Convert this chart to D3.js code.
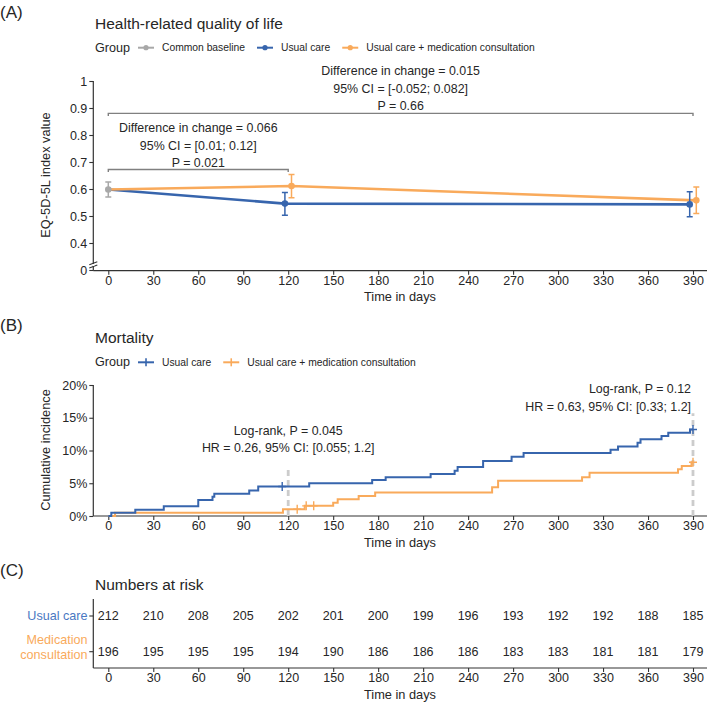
<!DOCTYPE html>
<html><head><meta charset="utf-8">
<script src="https://cdn.jsdelivr.net/npm/d3@7"></script>
<style>
body{margin:0;background:#fff}
svg{display:block}
text{font-family:"Liberation Sans",Arial,Helvetica,sans-serif;fill:#262626}
</style>
</head><body>
<svg id="chart" width="709" height="704"></svg>
<script>
// ---------------- DATA ----------------
const dayTicks = [0,30,60,90,120,150,180,210,240,270,300,330,360,390];

// Panel A: EQ-5D-5L (index 0 = common baseline)
const qolGroups = ["Common baseline","Usual care","Usual care + medication consultation"];
const qolDays = [0,120,390];
const qolUsual   = [0.598,0.546,0.543];
const qolUsualLo = [0.570,0.503,0.497];
const qolUsualHi = [0.626,0.587,0.590];
const qolMed     = [0.598,0.611,0.558];
const qolMedLo   = [0.570,0.568,0.509];
const qolMedHi   = [0.626,0.654,0.607];
const qolYTicks = [0,0.4,0.5,0.6,0.7,0.8,0.9,1];
const annotTop = ["Difference in change = 0.015","95% CI = [-0.052; 0.082]","P = 0.66"];
const annotLow = ["Difference in change = 0.066","95% CI = [0.01; 0.12]","P = 0.021"];

// Panel B: cumulative incidence of death (%)
const kmGroups = ["Usual care","Usual care + medication consultation"];
const kmUsualT = [0,2,18,37,60,69.5,70.7,94,100,134,176,185,215,231,233,250,269,277,335,340,353,355,369,373.5,388,390];
const kmUsualY = [0,0.5,0.95,1.5,2.45,2.95,3.4,3.9,4.5,5.0,5.5,5.9,6.4,6.9,7.5,8.4,9.05,9.6,10.1,10.6,11.2,11.7,12.2,12.7,13.2,13.2];
const kmMedT = [0,4.5,116.5,131,150,153,167,178,256,260,316,321,380,382.5,389,390];
const kmMedY = [0,0.51,1.02,1.55,2.04,2.55,3.06,3.6,4.38,5.4,5.9,6.6,7.15,7.65,8.2,8.2];
const kmUsualCensor = [116,390];
const kmMedCensor = [126,132,137,390];
const kmYTicks = [0,5,10,15,20];
const lrDays = [120,390];
const lrTop = [7.2,15.7];
const lrText1 = ["Log-rank, P = 0.045","HR = 0.26, 95% CI: [0.055; 1.2]"];
const lrText2 = ["Log-rank, P = 0.12","HR = 0.63, 95% CI: [0.33; 1.2]"];

// Panel C: numbers at risk
const riskRows = ["Usual care","Medication consultation"];
const riskUsual = [212,210,208,205,202,201,200,199,196,193,192,192,188,185];
const riskMed   = [196,195,195,195,194,190,186,186,186,183,183,181,181,179];

// ---------------- STYLE ----------------
const BLUE = "#3765ad", ORANGE = "#f9aa5b", GREY = "#a8a8a8";
const AXIS = "#333333", ANN = "#808080";
const svg = d3.select("#chart");
const LEFT = 93.3, RIGHT = 707;
const x = d3.scaleLinear().domain([0,390]).range([108.3,693]);
const FS_TICK = "12.5px", FS_ANN = "12.4px", FS_TITLE = "15.5px", FS_TAG = "17px";

function styleAxis(g){
  g.select(".domain").remove();
  g.selectAll(".tick line").attr("stroke",AXIS).attr("stroke-width",1.1);
  g.selectAll(".tick text").attr("font-size",FS_TICK).attr("fill","#262626")
    .attr("font-family","Liberation Sans, Arial, sans-serif");
}
function tag(t,y){ svg.append("text").attr("x",0).attr("y",y).attr("dominant-baseline","central")
  .attr("font-size",FS_TAG).text(t); }
function title(t,y){ svg.append("text").attr("x",95).attr("y",y).attr("dominant-baseline","central")
  .attr("font-size",FS_TITLE).text(t); }
function xLabel(y){ svg.append("text").attr("x",400).attr("y",y).attr("text-anchor","middle")
  .attr("dominant-baseline","central").attr("font-size","12.8px").text("Time in days"); }
function yLabel(t,cy){ svg.append("text").attr("transform",`translate(45,${cy}) rotate(-90)`)
  .attr("text-anchor","middle").attr("dominant-baseline","central").attr("font-size","12.8px").text(t); }
function hline(y,x1,x2){ svg.append("line").attr("x1",x1).attr("x2",x2).attr("y1",y).attr("y2",y)
  .attr("stroke",AXIS).attr("stroke-width",1.2); }
function vline(xp,y1,y2){ svg.append("line").attr("x1",xp).attr("x2",xp).attr("y1",y1).attr("y2",y2)
  .attr("stroke",AXIS).attr("stroke-width",1.2); }
function xAxis(y){
  const g = svg.append("g").attr("transform",`translate(0,${y})`)
    .call(d3.axisBottom(x).tickValues(dayTicks).tickSize(4).tickPadding(1.5).tickFormat(d3.format("d")));
  styleAxis(g);
  hline(y,LEFT,RIGHT);
}

function legend(y, items, keyType){
  const g = svg.append("g");
  const gt = g.append("text").attr("x",95).attr("y",y).attr("dominant-baseline","central")
    .attr("font-size","12.6px").text("Group");
  let cx = 95 + gt.node().getComputedTextLength() + 8;
  items.forEach(it=>{
    g.append("line").attr("x1",cx).attr("x2",cx+16).attr("y1",y).attr("y2",y)
      .attr("stroke",it.c).attr("stroke-width",2);
    if(keyType==="point") g.append("circle").attr("cx",cx+8).attr("cy",y).attr("r",2.6).attr("fill",it.c);
    else g.append("line").attr("x1",cx+8).attr("x2",cx+8).attr("y1",y-4).attr("y2",y+4).attr("stroke",it.c).attr("stroke-width",1.6);
    const t = g.append("text").attr("x",cx+24).attr("y",y).attr("dominant-baseline","central")
      .attr("font-size","10.3px").text(it.label);
    cx = cx + 24 + t.node().getComputedTextLength() + 12;
  });
}

// ---------------- PANEL A ----------------
tag("(A)",12);
title("Health-related quality of life",23);
legend(47.7,[{c:GREY,label:qolGroups[0]},{c:BLUE,label:qolGroups[1]},{c:ORANGE,label:qolGroups[2]}],"point");

const yA = d3.scaleLinear().domain([0,0.4,1]).range([270,243,81]);
xAxis(270.7);
const gyA = svg.append("g").attr("transform",`translate(${LEFT},0)`)
  .call(d3.axisLeft(yA).tickValues(qolYTicks).tickSize(4).tickPadding(2)
    .tickFormat(d=> d===0?"0":(d===1?"1":d3.format(".1f")(d))));
styleAxis(gyA);
vline(LEFT,81,270.7);
// axis break mark
[263.2,266.6].forEach(yy=>{
  svg.append("line").attr("x1",LEFT-4).attr("x2",LEFT+4).attr("y1",yy+1.5).attr("y2",yy-1.5)
    .attr("stroke",AXIS).attr("stroke-width",1.1);
});
svg.append("rect").attr("x",LEFT-1).attr("y",264).attr("width",2).attr("height",2).attr("fill","#fff");

// brackets & annotations
function bracket(d1,d2,v,lines,textStartY){
  const y0 = yA(v);
  svg.append("path").attr("d",`M${x(d1)},${y0+2.5}V${y0}H${x(d2)}V${y0+2.5}`)
    .attr("fill","none").attr("stroke",ANN).attr("stroke-width",1.4);
  lines.forEach((t,i)=>{
    svg.append("text").attr("x",(x(d1)+x(d2))/2).attr("y",textStartY+i*17.5)
      .attr("text-anchor","middle").attr("dominant-baseline","central").attr("font-size",FS_ANN).text(t);
  });
}
bracket(0,390,0.880,annotTop,71);
bracket(0,120,0.672,annotLow,128);

// series
const dodge = 2.2;
function series(vals,lo,hi,color,off){
  const pts = qolDays.map((d,i)=>({d: i===0?d:d+off, v:vals[i], lo:lo[i], hi:hi[i]}));
  svg.append("path").datum(pts).attr("fill","none").attr("stroke",color).attr("stroke-width",2.6)
    .attr("d",d3.line().x(p=>x(p.d)).y(p=>yA(p.v)));
  return pts;
}
const pu = series(qolUsual,qolUsualLo,qolUsualHi,BLUE,-dodge);
const pm = series(qolMed,qolMedLo,qolMedHi,ORANGE,dodge);
function errs(pts,color,skipFirst){
  pts.forEach((p,i)=>{
    if(skipFirst && i===0) return;
    const c = (i===0)?GREY:color;
    const xx = x(p.d);
    svg.append("path").attr("d",`M${xx-3},${yA(p.hi)}H${xx+3}M${xx},${yA(p.hi)}V${yA(p.lo)}M${xx-3},${yA(p.lo)}H${xx+3}`)
      .attr("stroke",c).attr("stroke-width",1.5).attr("fill","none");
    svg.append("circle").attr("cx",xx).attr("cy",yA(p.v)).attr("r",3.3).attr("fill",c);
  });
}
errs(pu,BLUE,true);
errs(pm,ORANGE,true);
errs([pu[0]],GREY,false);
xLabel(296.5);
yLabel("EQ-5D-5L index value",175);

// ---------------- PANEL B ----------------
tag("(B)",325);
title("Mortality",337.5);
legend(362.3,[{c:BLUE,label:kmGroups[0]},{c:ORANGE,label:kmGroups[1]}],"cross");
const yB = d3.scaleLinear().domain([0,20]).range([516,385]);
xAxis(516);
const gyB = svg.append("g").attr("transform",`translate(${LEFT},0)`)
  .call(d3.axisLeft(yB).tickValues(kmYTicks).tickSize(4).tickPadding(2).tickFormat(d=>d+"%"));
styleAxis(gyB);
vline(LEFT,385,516);

// reference dashed lines
lrDays.forEach((d,i)=>{
  svg.append("line").attr("x1",x(d)).attr("x2",x(d)).attr("y1",yB(0)).attr("y2",yB(lrTop[i]))
    .attr("stroke","#cccccc").attr("stroke-width",2.8).attr("stroke-dasharray","6,4");
});
function stepCurve(T,Y,color,cens){
  const pts = T.map((t,i)=>[t,Y[i]]);
  svg.append("path").datum(pts).attr("fill","none").attr("stroke",color).attr("stroke-width",2)
    .attr("d",d3.line().curve(d3.curveStepAfter).x(p=>x(p[0])).y(p=>yB(p[1])));
  const bis = d3.bisector(d=>d).right;
  cens.forEach(c=>{
    const v = Y[Math.max(0,bis(T,c)-1)];
    const xx = x(c), yy = yB(v);
    svg.append("path").attr("d",`M${xx},${yy-4.5}V${yy+4.5}M${xx-4},${yy}H${xx+4}`)
      .attr("stroke",color).attr("stroke-width",1.4);
  });
}
stepCurve(kmMedT,kmMedY,ORANGE,kmMedCensor);
stepCurve(kmUsualT,kmUsualY,BLUE,kmUsualCensor);
lrText1.forEach((t,i)=>svg.append("text").attr("x",x(lrDays[0])).attr("y",431+i*17.3)
  .attr("text-anchor","middle").attr("dominant-baseline","central").attr("font-size",FS_ANN).text(t));
lrText2.forEach((t,i)=>svg.append("text").attr("x",691).attr("y",389.3+i*17.3)
  .attr("text-anchor","end").attr("dominant-baseline","central").attr("font-size",FS_ANN).text(t));
xLabel(542);
yLabel("Cumulative incidence",450);

// ---------------- PANEL C ----------------
tag("(C)",570);
title("Numbers at risk",584);
xAxis(668);
vline(LEFT,599,668);
const rowY = {"Usual care":616,"Medication consultation":651.7};
const rowColor = {"Usual care":"#4a78c2","Medication consultation":ORANGE};
riskRows.forEach(r=>{
  svg.append("line").attr("x1",LEFT-4).attr("x2",LEFT).attr("y1",rowY[r]).attr("y2",rowY[r])
    .attr("stroke",AXIS).attr("stroke-width",1.1);
});
svg.append("text").attr("x",87.5).attr("y",616).attr("text-anchor","end").attr("dominant-baseline","central")
  .attr("font-size","12.6px").style("fill",rowColor["Usual care"]).text("Usual care");
const mt = svg.append("text").attr("x",87.5).attr("text-anchor","end").attr("font-size","12.6px")
  .style("fill",rowColor["Medication consultation"]);
mt.append("tspan").attr("x",87.5).attr("y",640).attr("dominant-baseline","central").text("Medication");
mt.append("tspan").attr("x",87.5).attr("y",654.5).attr("dominant-baseline","central").text("consultation");
[[riskUsual,"Usual care"],[riskMed,"Medication consultation"]].forEach(([arr,r])=>{
  svg.selectAll(null).data(arr).enter().append("text")
    .attr("x",(d,i)=>x(dayTicks[i])).attr("y",rowY[r]).attr("text-anchor","middle")
    .attr("dominant-baseline","central").attr("font-size","12.5px").text(d=>d);
});
xLabel(694);
</script>
</body></html>
